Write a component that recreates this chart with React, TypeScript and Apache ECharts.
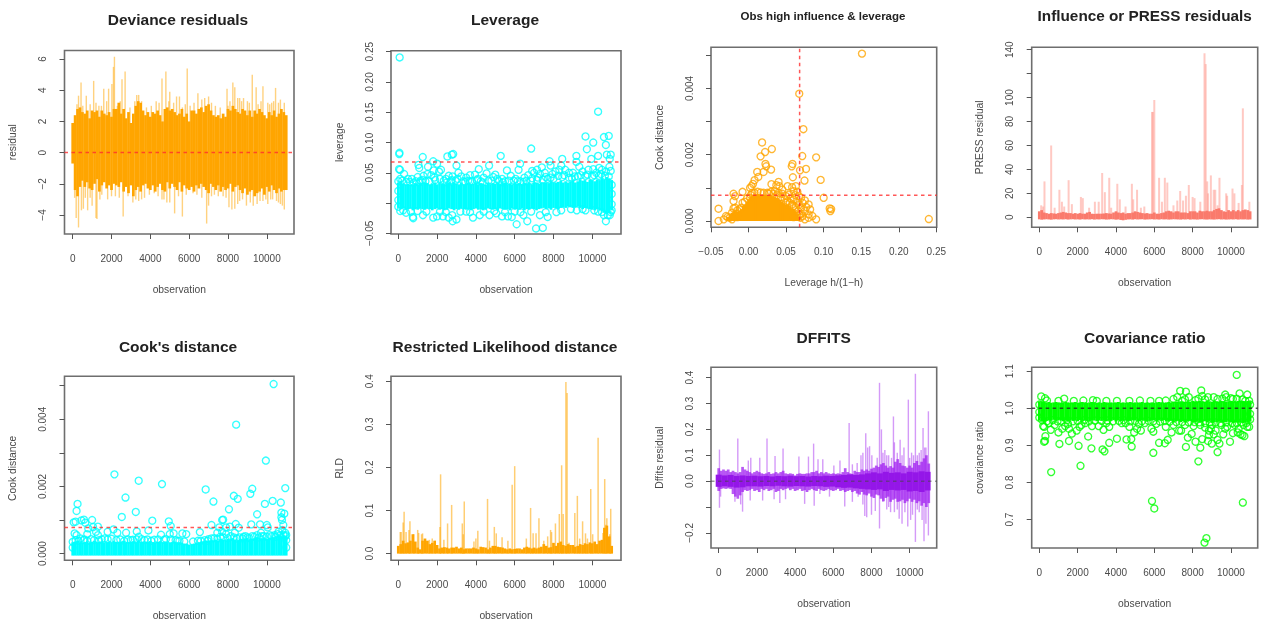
import React, { useEffect, useRef } from "react";
import * as echarts from "echarts";

const coreStep = 125;
const obsTicks = [0, 2000, 4000, 6000, 8000, 10000];

// Deviance residuals
const devCoreHi = [
  1.9,2.4,2.8,2.9,2.6,2.5,2.7,2.2,2.7,2.6,
  2.7,2.3,2.7,2.5,2.4,2.6,2.3,2.8,2.8,3.2,
  2.5,2.8,2.2,2.6,1.9,2.5,3.0,3.3,3.2,2.7,
  2.4,2.6,2.3,2.6,2.5,2.7,2.4,2.0,2.8,2.9,
  2.7,2.8,2.6,2.4,2.5,2.8,2.3,2.5,2.0,2.7,
  2.7,2.5,2.8,2.9,2.6,3.0,3.1,2.7,2.4,2.3,
  2.4,2.2,2.5,2.3,2.8,2.7,3.0,2.8,2.6,2.5,
  2.8,2.7,2.4,2.7,2.3,2.7,2.5,2.8,2.6,2.4,
  2.2,2.6,2.4,2.7,2.3,2.5,2.8,2.6,2.4];
const devCoreLo = [
  -0.7,-2.4,-2.8,-2.2,-1.8,-2.2,-1.9,-2.3,-2.4,-2.0,
  -1.7,-2.5,-2.1,-1.9,-2.3,-2.1,-2.4,-2.0,-2.1,-2.2,
  -1.9,-2.5,-2.2,-2.6,-2.1,-2.8,-2.4,-2.2,-2.5,-2.1,
  -2.0,-2.3,-2.4,-2.1,-2.5,-2.2,-2.0,-2.4,-2.5,-1.9,
  -2.3,-2.0,-2.2,-2.4,-1.9,-2.5,-2.1,-2.3,-2.4,-2.2,
  -2.5,-2.1,-2.3,-2.0,-2.2,-2.4,-2.6,-2.0,-2.2,-2.4,
  -2.1,-2.5,-2.2,-2.4,-2.3,-2.0,-2.5,-2.2,-2.1,-2.4,
  -2.6,-2.3,-2.7,-2.5,-2.4,-2.8,-2.6,-2.5,-2.3,-2.7,
  -2.2,-2.5,-2.1,-2.4,-2.6,-2.3,-2.5,-2.4,-2.4];
const devSpikes = [
  [2150,6.15],[2100,5.5],[2700,5.2],[2540,4.7],[430,4.5],[1080,4.6],[1600,4.1],[1850,4.1],[2020,4.4],[4600,4.75],
  [4800,5.2],[5900,5.4],[3300,3.7],[3400,3.7],[5000,3.9],[5500,3.6],[6450,3.8],[7000,3.6],[7950,4.1],[8250,4.5],
  [8350,4.2],[9250,5.0],[9450,4.2],[9800,4.25],[10450,4.15],[8600,3.5],[8800,3.5],[9000,3.3],[10050,3.2],[10250,3.2],
  [10700,3.4],[10900,3.2],[300,3.65],[700,3.65],[1350,3.0],[2450,3.3],[3200,3.3],[4050,3.0],[4300,3.3],[5350,3.6],
  [5200,3.2],[6250,3.2],[7600,2.9],[8000,3.0],[8500,3.5],
  [300,-4.8],[180,-4.2],[450,-3.7],[550,-3.6],[770,-3.7],[1250,-4.25],[1200,-4.2],[1000,-3.4],[2600,-4.1],[3100,-3.2],
  [3400,-3.1],[4600,-3.0],[4700,-3.0],[5000,-3.2],[5250,-3.9],[5650,-4.1],[6900,-4.55],[7000,-3.4],[7500,-2.8],[8050,-3.5],
  [8200,-3.65],[8350,-3.6],[8600,-3.1],[8950,-3.4],[9300,-3.4],[9500,-3.3],[9800,-3.1],[10050,-3.3],[10300,-3.0],[10700,-3.3],
  [10900,-3.65],[10800,-3.4],[100,-2.9],[4200,-2.6],[3700,-2.9],[2200,-2.8],[1800,-3.0],[1500,-2.7],[6200,-2.6],[7300,-2.7],
  [220,3.1],[520,3.0],[900,3.1],[1200,3.2],[1480,3.0],[1750,3.3],[2300,3.0],[2950,2.9],[3550,3.3],[3800,2.9],
  [4450,3.2],[4950,3.3],[5650,2.9],[5800,3.1],[6050,3.0],[6650,3.4],[6800,3.5],[7150,3.2],[7350,3.0],[8100,3.3],
  [8700,3.3],[9100,3.2],[9550,3.1],[9700,3.3],[10150,3.1],[10350,3.3],[10600,3.2],
  [650,-2.9],[900,-2.9],[1400,-3.0],[2000,-2.8],[2400,-2.9],[2850,-2.8],[3250,-3.0],[3550,-3.0],[3950,-2.7],[4400,-2.8],
  [4850,-3.2],[5450,-2.8],[5850,-2.7],[6400,-2.7],[6650,-2.9],[7150,-2.8],[7750,-2.8],[7900,-2.9],[8500,-3.3],[8750,-3.0],
  [9150,-3.2],[9650,-3.1],[9950,-3.0],[10200,-3.0],[10500,-3.1],[10600,-3.2]];

// Leverage
const levCoreHi = [
  .034,.037,.032,.031,.032,.030,.031,.033,.031,.033,
  .031,.034,.033,.030,.032,.034,.031,.034,.032,.031,
  .033,.034,.031,.034,.032,.031,.034,.030,.032,.034,
  .031,.032,.034,.031,.033,.032,.030,.034,.031,.033,
  .032,.034,.031,.033,.034,.031,.032,.031,.034,.032,
  .033,.031,.034,.032,.034,.031,.034,.034,.032,.034,
  .034,.034,.033,.036,.034,.034,.035,.037,.034,.036,
  .034,.035,.038,.034,.036,.039,.037,.038,.035,.039,
  .038,.036,.039,.038,.041,.039,.043,.041,.038];
const levCoreLo = [
  -.008,-.010,-.009,-.011,-.010,-.009,-.012,-.010,-.011,-.009,
  -.010,-.011,-.009,-.010,-.012,-.010,-.009,-.011,-.010,-.012,
  -.011,-.009,-.010,-.012,-.010,-.011,-.009,-.010,-.011,-.010,
  -.012,-.010,-.009,-.011,-.010,-.012,-.011,-.009,-.010,-.011,
  -.010,-.012,-.009,-.010,-.011,-.010,-.012,-.009,-.011,-.010,
  -.011,-.009,-.012,-.010,-.011,-.009,-.010,-.012,-.010,-.009,
  -.008,-.010,-.009,-.011,-.008,-.009,-.010,-.008,-.007,-.008,
  -.006,-.007,-.008,-.007,-.006,-.008,-.010,-.008,-.009,-.010,
  -.011,-.012,-.010,-.012,-.014,-.016,-.018,-.017,-.012];
const levPoints = [
  [70,.2406],[50,.081],[60,.083],[40,.056],[90,.055],[1040,.063],[1080,.058],[1260,.076],[1530,.06],[1800,.069],
  [2000,.065],[1820,.054],[2530,.077],[2760,.08],[2830,.081],[3000,.062],[3100,.05],[4150,.056],[4680,.062],[5280,.078],
  [5600,.054],[6200,.055],[6280,.065],[6850,.09],[6900,.053],[7150,.055],[7400,.059],[7800,.069],[7850,.062],[8450,.073],
  [8400,.062],[9180,.078],[9180,.068],[9330,.06],[9650,.11],[9720,.089],[9950,.073],[10050,.1],[10050,.056],[10300,.151],
  [10300,.078],[10350,.058],[10600,.109],[10700,.096],[10850,.111],[10750,.08],[10950,.08],[10900,.073],[10880,.06],[10950,.053],
  [100,-.013],[400,-.016],[750,-.023],[770,-.025],[1270,-.02],[1800,-.024],[2000,-.022],[2300,-.022],[2600,-.024],[2800,-.03],
  [2780,-.02],[3000,-.027],[3500,-.014],[3850,-.024],[4200,-.02],[4700,-.02],[5050,-.017],[5350,-.022],[5650,-.022],[5850,-.023],
  [6100,-.035],[6450,-.02],[6650,-.03],[7100,-.042],[7450,-.041],[7300,-.02],[7700,-.023],[8150,-.015],[8900,-.01],[9200,-.012],
  [9650,-.012],[10100,-.012],[10700,-.03],[10800,-.02],[10900,-.02],[10500,-.015],
  [300,.048],[500,.04],[700,.04],[1000,.043],[1300,.045],[1500,.048],[1700,.046],[2100,.052],[2200,.055],[2450,.04],
  [2600,.045],[2800,.044],[3250,.044],[3500,.042],[3700,.046],[3950,.047],[4100,.04],[4400,.042],[4550,.049],[4900,.043],
  [5000,.047],[5350,.04],[5800,.045],[6050,.04],[6500,.042],[6700,.046],[7000,.05],[7300,.048],[7550,.05],[7950,.048],
  [8100,.052],[8300,.055],[8600,.055],[8800,.05],[9000,.05],[9500,.052],[9800,.055],[10200,.05],[10500,.055],[10700,.052],
  [0,.036],[0,.02],[0,.005],[0,-.006],[11000,.03],[11000,.015],[11000,-.002],[11000,-.012],
  [200,.037],[600,.035],[900,.036],[1150,.037],[1400,.036],[1900,.038],[2350,.037],[2700,.036],[2950,.037],[3350,.036],
  [3600,.037],[3800,.036],[4250,.036],[4650,.037],[5200,.036],[5500,.036],[5950,.037],[6300,.036],[6600,.037],[6850,.037],
  [7150,.038],[7450,.039],[7700,.04],[8000,.04],[8450,.043],[8950,.041],[9250,.044],[9650,.045],[10000,.044],[10350,.045],
  [100,.04],[420,.035],[800,.033],[1080,.034],[1250,.038],[1600,.036],[1850,.042],[2150,.04],[2500,.034],[2750,.038],
  [3050,.04],[3450,.035],[3700,.036],[4050,.038],[4350,.034],[4800,.037],[5100,.04],[5400,.034],[5700,.037],[6150,.036],
  [6450,.035],[6900,.041],[7200,.042],[7600,.043],[7850,.042],[8250,.045],[8550,.046],[8800,.042],[9100,.044],[9400,.046],
  [9750,.047],[10100,.046],[10450,.048],[10650,.045],[10850,.044],
  [250,-.012],[650,-.014],[1000,-.013],[1450,-.014],[2150,-.014],[2450,-.015],[3200,-.014],[3700,-.015],[4400,-.014],[4950,-.013],
  [5500,-.015],[6000,-.014],[6300,-.015],[6850,-.014],[7600,-.015],[8400,-.012],[9500,-.01],[10300,-.014],[10600,-.02],[10950,-.015]];
const levLimit = 0.068;

// Obs high influence & leverage
const hatCoreX = [
  -.025,-.0225,-.02,-.0175,-.015,-.0125,-.01,-.0075,-.005,-.0025,0,.0025,.005,.0075,.01,.0125,.015,.0175,
  .02,.0225,.025,.0275,.03,.0325,.035,.0375,.04,.0425,.045,.0475,.05,.0525,.055,.0575,.06,.0625,.065];
const hatCoreHi = [
  .00012,.0002,.00025,.00028,.00025,.00028,.0003,.00036,.00045,.0005,.00058,.00066,.00074,.00078,.0008,.00079,.0008,.00078,
  .00078,.00077,.00078,.00076,.00075,.00072,.0007,.00068,.00064,.00058,.00054,.0005,.00048,.00042,.00038,.00035,.0003,.00022,.00012];
const hatPoints = [
  [.151,.00505],[.0675,.00384],[.073,.00277],[.018,.00237],[.031,.00217],[.022,.00208],[.016,.00195],[.0715,.00196],[.09,.00192],[.0225,.00172],
  [.0235,.00165],[.0585,.00172],[.0575,.00165],[.03,.00155],[.0115,.00148],[.02,.00148],[.0685,.00153],[.0765,.00157],[.059,.00132],[.096,.00124],
  [.0745,.00122],[.013,.00133],[.008,.00123],[.004,.00105],[.0305,.00111],[.04,.00118],[.037,.00108],[.041,.00105],[.045,.00095],[.052,.00105],
  [.058,.00102],[.063,.00105],[.006,.00112],[.002,.001],[-.008,.00088],[-.02,.00082],[-.018,.00075],[-.02,.0006],[.1,.0007],[.108,.00038],
  [.11,.00036],[.109,.0003],[.24,.00006],[-.04,.00037],[-.04,0],[-.0177,.0004],[-.015,.00032],[-.008,.00055],[-.03,.00015],[-.025,.0001],
  [.06,.0009],[.065,.00088],[.067,.00075],[.07,.0007],[.075,.00062],[.08,.0005],[.077,.00042],[.082,.00035],[.07,.0004],[.075,.0003],
  [.08,.0002],[.085,.00015],[.09,.00005],[.075,.00005],[.08,.0001],[.072,.00055],[.065,.00055],[.06,.00065],[.054,.0008],[.05,.00075],
  [.045,.00082],[.04,.00085],[.035,.0009],[.03,.00088],[.025,.00085],[.012,.00088],[.005,.00085],[-.033,.00005],[-.028,.00012],[.068,.0002],
  [.072,.00015],[.06,.00045],[.066,.0003],[.055,.00055],[.05,.00055],[-.012,.00035],[-.018,.00015],[-.022,.00005],[-.015,.00012],
  [.056,.00068],[.062,.00078],[.048,.00068],[.043,.00072],[.038,.00078],[.033,.00082],[.027,.00083],[.02,.00085],[.016,.00086],[.008,.00085],
  [.003,.00078],[-.002,.00068],[-.005,.00058],[-.01,.0004],[.002,.0007],[-.02,.00038],[-.022,.00025],[-.016,.00022],[.069,.0001],[.063,.00042],
  [.067,.00048],[.058,.0005],[.052,.0006],[.07,.00022],[.065,.00015],[.06,.00012]];
const hatLimit = 0.068;
const cookLimit = 0.00078;

// Influence or PRESS residuals
const pressCoreHi = [
  5,6,4,3.5,3,3.5,3.2,3,3.5,4,
  4.5,4,3.5,3.5,3,3.5,3,3.5,3,3,
  4,4.5,3,2.8,3,3,3,3.2,3.5,3.2,
  3,4,5,4,3.5,4,3,3.5,3.5,4,
  5,4.5,4,3.5,3.2,3.5,3,3,4,3,
  3,3.5,4,5,5.5,5,4,5,5,4,
  4,4,3.5,5,5,5,4,5.5,5,5,
  5.5,5,5,6,7,7.5,6,5,4.5,6,
  5,6,5,6,5,6,6.5,6,5];
const pressCoreLo = [
  -1.7,-2,-1.8,-1.6,-1.8,-2,-1.7,-1.6,-1.8,-1.7,
  -1.8,-1.6,-1.9,-1.7,-1.6,-1.8,-1.7,-1.9,-1.6,-1.8,
  -1.7,-1.8,-1.6,-1.9,-1.7,-1.8,-1.6,-1.7,-1.9,-1.8,
  -1.6,-1.7,-2,-1.8,-2.2,-2.5,-2.1,-1.8,-1.7,-1.9,
  -1.6,-1.8,-1.7,-1.6,-1.9,-1.8,-1.7,-1.6,-1.8,-1.7,
  -1.9,-1.6,-1.8,-1.7,-1.9,-1.8,-1.6,-1.7,-1.8,-1.9,
  -1.7,-1.8,-1.6,-1.9,-1.7,-1.8,-1.9,-1.7,-1.6,-1.8,
  -1.9,-1.7,-1.8,-1.9,-1.7,-1.6,-1.8,-1.7,-1.9,-1.8,
  -1.7,-1.8,-1.6,-1.9,-1.7,-1.8,-1.7,-1.9,-1.8];
const pressSpikes = [
  [270,30],[620,60],[1050,23],[1180,13],[1530,31],[2170,17],[2270,16],[2900,13],[3100,13],[3280,37],
  [3420,21],[3650,33],[4070,28],[4200,15],[4830,28],[5100,23],[5480,9],[5880,88],[5930,88],[6000,98],
  [6250,33],[6550,33],[6680,29],[7350,22],[7200,14],[7500,14],[7650,18],[7800,27],[8000,17],[8100,16],
  [8620,137],[8680,128],[8760,30],[8950,35],[9100,23],[9180,23],[9400,33],[9750,20],[10080,24],[10180,20],
  [10570,27],[10620,91],[10960,13],[100,10],[200,9],[800,8],[1300,9],[1700,11],[2600,8],[3750,8],
  [4500,9],[4900,15],[5300,8],[6400,13],[7000,10],[8400,13],[8800,20],[9300,10],[9800,18],[10400,12]];

// Cook's distance (in units of 1e-4 for the band)
const cookCoreHiE4 = [
  3.4,3.6,3.8,3.4,3.2,3.4,3.6,3.2,3.4,3.8,
  3.4,3.5,3.7,3.2,3.4,3.6,3.3,3.7,3.5,3.4,
  3.6,3.8,3.4,3.3,3.5,3.7,3.4,3.8,3.4,3.5,
  3.6,3.4,3.7,3.4,3.3,3.5,3.7,3.4,3.6,3.4,
  3.2,3.4,3.6,3.3,3.4,3.2,3,2.9,2.7,2.8,
  3,3.2,3.4,3.6,3.7,3.9,3.8,4,3.9,4.2,
  3.9,4.4,4.2,4,4.4,4.2,4.6,4.2,4,4.4,
  4.2,4.4,4.6,4.3,4.4,4.6,4.9,4.6,4.4,4.8,
  4.4,4.6,4.8,4.9,5.2,5.4,5.2,5.4,5];
const cookPoints = [
  [10350,.00505],[8420,.00384],[9950,.00277],[2150,.00236],[3400,.00217],[4600,.00207],[6850,.00191],[9250,.00193],[9150,.00178],[10950,.00195],
  [8300,.00172],[8500,.00163],[2720,.00167],[7250,.00155],[10300,.00157],[10720,.00152],[9900,.00148],[250,.00148],[200,.00127],[8050,.00132],
  [3250,.00124],[10750,.00122],[10900,.00119],[9500,.00117],[2530,.00109],[10750,.00108],[10780,.001],[4100,.00098],[1000,.001],[580,.00101],
  [450,.00099],[50,.00093],[150,.00095],[650,.00092],[4950,.00096],[7700,.001],[7750,.00101],[5050,.00082],[1300,.0008],[1050,.00079],
  [800,.00075],[7150,.00085],[7550,.00078],[7900,.00078],[8100,.0008],[8400,.00088],[8550,.00077],[9200,.00087],[9650,.00087],[10000,.00085],
  [10050,.00078],[10850,.00085],[1800,.00065],[2100,.00072],[2300,.00062],[2750,.00062],[3300,.00066],[3400,.0005],[3900,.00069],[3700,.0004],
  [4550,.00056],[5000,.00058],[5200,.0006],[5650,.0006],[5850,.00058],[6550,.00064],[7450,.00062],[8900,.00052],[9000,.00048],[8800,.0005],
  [7700,.00065],[7900,.00058],[8350,.00062],[9700,.00062],[10600,.00065],[10800,.0007],[10950,.00062],[11000,.00055],[100,.0006],[200,.00055],
  [750,.00058],[1200,.00065],[1300,.00055],[400,.00045],[600,.00042],[950,.00043],[1500,.00042],[1650,.00045],[2000,.00044],[2450,.00042],
  [2850,.00042],[3100,.00041],[3550,.00043],[4200,.00041],[4400,.00042],[4800,.00043],[5300,.0004],[5500,.00038],[6200,.00036],[6450,.00038],
  [6800,.0004],[7000,.00043],[7300,.00046],[7600,.0005],[8150,.00052],[8600,.00048],[9350,.0005],[9500,.00055],[9850,.00052],[10150,.00055],
  [10400,.00055],[10550,.00058],[0,.00035],[0,.00018],[11000,.0004],[11000,.00018],
  [150,.0004],[300,.00038],[550,.0004],[750,.00038],[1100,.0004],[1350,.0004],[1800,.00042],[2250,.0004],[2650,.00038],[3000,.0004],
  [3300,.00042],[3850,.00042],[4050,.00038],[4700,.00041],[5050,.00042],[5400,.00038],[5750,.00036],[6600,.00038],[6950,.00038],[7150,.00045],
  [7450,.00044],[7750,.00048],[8000,.00046],[8300,.00048],[8450,.00045],[8750,.00045],[9100,.00046],[9250,.00052],[9600,.00048],[9750,.00052],
  [10000,.0005],[10250,.00052],[10450,.0005],[10700,.00055],[10850,.00056],[10950,.00052]];
const cookCoreFloor = -0.00006;

// Restricted Likelihood distance (1e-3 units for the band)
const rldCoreHiE3 = [
  18,22,30,24,26,30,45,28,14,10,
  30,35,30,22,25,30,20,12,14,15,
  14,12,14,14,16,12,14,10,12,12,
  12,14,12,10,16,15,14,10,14,18,
  18,16,15,14,12,10,12,10,11,12,
  12,10,14,16,14,12,14,12,14,16,
  22,18,14,15,25,18,25,28,20,18,
  22,20,20,16,18,22,20,24,22,26,
  24,28,22,30,32,60,65,40,18];
const rldSpikes = [
  [100,.05],[150,.05],[250,.072],[300,.097],[400,.05],[600,.075],[550,.055],[800,.045],[1000,.055],[1050,.048],
  [1250,.047],[1200,.045],[1600,.032],[1750,.035],[1900,.03],[2150,.062],[2180,.184],[2350,.032],[2540,.07],[2750,.113],
  [3300,.07],[3400,.121],[3350,.045],[3900,.028],[4000,.035],[4100,.053],[4600,.127],[4700,.03],[4950,.062],[5050,.047],
  [5350,.038],[5650,.03],[5870,.16],[6000,.203],[6600,.035],[6820,.106],[6950,.047],[7100,.047],[7250,.082],[7500,.03],
  [7700,.04],[7850,.055],[7900,.05],[8100,.07],[8300,.092],[8420,.205],[8500,.092],[8640,.398],[8700,.373],[8800,.025],
  [9100,.094],[9230,.134],[9500,.075],[9650,.047],[9920,.15],[10020,.045],[10300,.269],[10550,.048],[10640,.173],[10750,.082],
  [10700,.067],[10950,.104],[10900,.045],[9750,.035],[9350,.035]];

// DFFITS (1e-3 units for the band)
const dffCoreHiE3 = [
  50,40,45,40,45,35,40,35,30,35,
  55,45,40,35,30,35,40,35,30,28,
  30,35,28,30,35,30,35,40,30,28,
  30,28,22,28,30,28,28,30,30,35,
  35,40,30,35,30,35,30,28,30,28,
  30,28,35,50,35,30,28,40,35,35,
  45,40,45,40,48,52,60,55,65,70,
  60,52,58,52,75,85,70,60,58,52,
  60,52,70,78,62,75,88,100,68];
const dffCoreLoE3 = [
  -38,-30,-28,-30,-28,-30,-50,-60,-68,-55,
  -42,-35,-38,-35,-30,-38,-35,-42,-30,-35,
  -30,-38,-35,-30,-42,-38,-30,-35,-30,-28,
  -35,-30,-38,-35,-30,-38,-35,-42,-35,-30,
  -35,-38,-30,-35,-38,-35,-30,-35,-38,-35,
  -30,-38,-35,-42,-38,-35,-42,-38,-48,-52,
  -42,-52,-55,-48,-60,-65,-52,-55,-68,-78,
  -65,-60,-80,-72,-68,-80,-78,-72,-85,-78,
  -68,-80,-72,-85,-78,-95,-85,-100,-85];
const dffInnerHiE3 = [25,22,24,20,22,20,21,19,20,18,20,19,21,19,20,18,20,19,21,20,22,24,26,24,26,30,34,30,36,32,34,30,36,34,38,36];
const dffInnerLoE3 = [-22,-20,-22,-25,-24,-20,-20,-21,-19,-20,-18,-20,-21,-19,-20,-21,-19,-20,-22,-21,-24,-26,-25,-28,-30,-32,-34,-32,-38,-34,-36,-34,-40,-38,-42,-36];
const dffInnerStep = 312.5;
const dffSpikes = [
  [40,.122],[1000,.165],[2530,.165],[3370,.126],[2950,.097],[1680,.09],[1550,.08],[2150,.09],[4200,.095],[4700,.095],
  [4970,.145],[5450,.085],[5200,.085],[6030,.06],[6350,.08],[6830,.225],[7000,.065],[7250,.07],[7450,.1],[7550,.11],
  [7700,.185],[7800,.13],[7900,.135],[8020,.1],[8420,.38],[8520,.2],[8600,.11],[8800,.1],[8900,.1],[9150,.25],
  [9200,.15],[9500,.16],[9700,.13],[9930,.315],[10100,.11],[10300,.415],[10500,.11],[10700,.205],[10850,.13],[10980,.27],
  [10000,.09],[9350,.11],[8300,.09],[8700,.12],[9050,.09],[9600,.1],[10200,.1],[10400,.1],[10600,.12],[10780,.13],
  [40,-.103],[100,-.06],[850,-.08],[1150,-.09],[1250,-.118],[1650,-.075],[2300,-.075],[2900,-.07],[3200,-.085],[3500,-.07],
  [4500,-.088],[5000,-.095],[5300,-.05],[5800,-.06],[6600,-.098],[7000,-.08],[7300,-.06],[7550,-.09],[7650,-.135],[7750,-.14],
  [8000,-.13],[8200,-.115],[8420,-.183],[8600,-.08],[8800,-.11],[9000,-.12],[9200,-.12],[9450,-.145],[9600,-.165],[9900,-.175],
  [10050,-.15],[10300,-.235],[10500,-.12],[10750,-.232],[10850,-.165],[10980,-.21],[8900,-.1],[9350,-.11],[9750,-.12],[10150,-.13],
  [10400,-.11],[10650,-.15]];

// Covariance ratio
const covCoreHi = [
  1.018,1.019,1.017,1.016,1.017,1.015,1.016,1.017,1.016,1.015,
  1.016,1.017,1.016,1.015,1.016,1.017,1.015,1.016,1.017,1.016,
  1.015,1.016,1.017,1.016,1.015,1.016,1.015,1.017,1.016,1.015,
  1.016,1.015,1.016,1.017,1.015,1.016,1.015,1.016,1.017,1.015,
  1.016,1.015,1.016,1.017,1.015,1.016,1.015,1.016,1.015,1.016,
  1.017,1.016,1.015,1.016,1.017,1.016,1.018,1.017,1.018,1.019,
  1.018,1.017,1.019,1.018,1.02,1.019,1.018,1.02,1.019,1.018,
  1.02,1.019,1.018,1.02,1.019,1.018,1.02,1.019,1.018,1.019,
  1.02,1.019,1.018,1.02,1.021,1.02,1.019,1.02,1.019];
const covCoreLo = [
  .968,.964,.962,.966,.968,.967,.969,.966,.968,.967,
  .965,.967,.964,.968,.966,.967,.965,.968,.966,.967,
  .966,.964,.968,.967,.965,.967,.966,.968,.965,.967,
  .966,.968,.965,.967,.966,.968,.967,.965,.966,.968,
  .967,.965,.966,.968,.967,.964,.966,.967,.968,.965,
  .967,.966,.968,.965,.964,.966,.962,.964,.966,.963,
  .965,.962,.964,.966,.963,.962,.964,.961,.963,.965,
  .962,.964,.961,.963,.962,.964,.961,.963,.962,.964,
  .962,.960,.963,.961,.962,.960,.962,.961,.964];
const covPoints = [
  [10300,1.09],[10450,1.04],[8450,1.048],[7350,1.047],[7650,1.045],[7800,1.03],[7450,1.02],[8500,1.033],[8800,1.03],[9100,1.03],
  [9700,1.037],[10850,1.037],[100,1.032],[300,1.027],[1300,1.026],[2800,1.022],[3000,1.02],[6250,1.02],[7000,1.025],[7200,1.03],
  [8150,1.022],[9750,1.03],[10000,1.027],[10100,1.025],[10750,1.02],[10950,1.02],
  [620,.828],[2150,.845],[5880,.75],[6000,.73],[10620,.746],[8620,.638],[8720,.65],[8300,.857],[5950,.88],[3300,.889],
  [3400,.884],[2720,.892],[4820,.897],[7650,.896],[8400,.894],[9300,.882],[1050,.904],[2050,.899],[3650,.907],[4050,.918],
  [4550,.916],[4800,.917],[6250,.907],[6550,.906],[6700,.915],[250,.91],[300,.912],[320,.925],[2550,.924],[1550,.912],
  [7750,.921],[7950,.931],[8150,.91],[8500,.917],[8800,.912],[9000,.905],[9400,.905],[9300,.915],[9950,.91],[8850,.928],
  [10100,.933],[10350,.935],[10500,.93],[10600,.928],[10700,.925],[1000,.935],[1700,.932],[1550,.945],[1950,.94],[2100,.95],
  [3350,.942],[4950,.935],[5100,.945],[5300,.94],[5850,.945],[5950,.937],[6900,.935],[7300,.94],[7400,.94],[9100,.93],
  [9200,.94],[9600,.93],[9700,.945],[9800,.95],[10950,.95],[200,.952],[250,.95],[600,.942],[800,.955],[1200,.945],
  [1350,.952],[2200,.955],[2750,.952],[3100,.952],[3650,.95],[4300,.96],[4700,.95],[5500,.96],[6600,.95],[8050,.952],
  [8650,.948],[8850,.94],[8950,.945],[10400,.945],[10850,.95],
  [0,1.01],[0,.99],[0,.975],[11000,1.01],[11000,.985],[11000,.97],[500,.96],[1500,.958],[2400,.96],[3500,.96],
  [4500,.96],[5200,.958],[6100,.958],[7000,.955],[7600,.955],[8400,.955],[9000,.955],[9500,.955],[10200,.955],[10650,.955],
  [150,.968],[400,.965],[700,.968],[950,.965],[1150,.966],[1450,.968],[1750,.965],[2000,.966],[2350,.968],[2600,.965],
  [2900,.967],[3250,.966],[3550,.967],[3850,.965],[4150,.966],[4400,.968],[4750,.965],[5000,.966],[5350,.965],[5700,.966],
  [5950,.965],[6300,.964],[6550,.966],[6800,.964],[7150,.963],[7450,.963],[7800,.962],[8100,.963],[8350,.962],[8650,.96],
  [8900,.962],[9200,.962],[9450,.96],[9750,.962],[10050,.96],[10300,.96],[10550,.962],[10800,.96],
  [400,1.021],[1000,1.02],[1800,1.02],[2300,1.021],[3500,1.02],[4050,1.02],[4700,1.02],[5250,1.021],[5800,1.02],[6600,1.021],
  [7600,1.024],[8300,1.026],[8650,1.024],[9300,1.025],[9550,1.026],[10300,1.026],[10600,1.024]];

const ORANGE = "#ffa500";
const CYAN = "#00ffff";
const GREEN = "#00ff00";
const PURPLE = "#a020f0";
const DARK_PURPLE = "#9416e8";
const SALMON = "#fa7a6c";
const RED = "rgba(255,45,45,0.8)";
const TXT = "#4a4a4a";

const band = (hi: number[], lo: number[]) => hi.map((v, i) => [i * coreStep, lo[i], v]);

const App = () => {
  const ref = useRef<HTMLDivElement>(null);
  useEffect(() => {
    const chart = echarts.init(ref.current!, undefined, { renderer: "svg" });
    const grids: any[] = [];
    const xAxes: any[] = [];
    const yAxes: any[] = [];
    const titles: any[] = [];
    const series: any[] = [];

    const panel = (p: any) => {
      const i = grids.length;
      grids.push({ show: true, left: p.box[0], top: p.box[1], width: p.box[2] - p.box[0], height: p.box[3] - p.box[1], borderColor: "#6e6e6e", borderWidth: 1.6, backgroundColor: "transparent" });
      const fmt = (d: number) => (v: number) => v.toFixed(d).replace("-", "\u2212");
      const tick = { show: true, length: 5, lineStyle: { color: "#555", width: 1 } };
      xAxes.push({
        gridIndex: i, type: "value", min: p.x[0], max: p.x[1], splitLine: { show: false }, axisLine: { show: false, onZero: false },
        axisTick: { ...tick, customValues: p.xTicks ?? obsTicks },
        axisLabel: { customValues: p.xLabels ?? obsTicks, margin: 19, color: TXT, fontSize: 10, fontFamily: "Liberation Sans", formatter: p.xFmt ? fmt(p.xFmt) : (v: number) => String(v), hideOverlap: false, showMinLabel: true, showMaxLabel: true },
        name: p.xName ?? "observation", nameLocation: "middle", nameGap: 50, nameTextStyle: { color: TXT, fontSize: 10.3, fontFamily: "Liberation Sans" },
      });
      yAxes.push({
        gridIndex: i, type: "value", min: p.y[0], max: p.y[1], splitLine: { show: false }, axisLine: { show: false, onZero: false },
        axisTick: { ...tick, customValues: p.yTicks },
        axisLabel: { customValues: p.yLabels, rotate: 90, margin: 17, color: TXT, fontSize: 10, fontFamily: "Liberation Sans", formatter: fmt(p.yFmt), hideOverlap: false, showMinLabel: true, showMaxLabel: true },
        name: p.yName, nameLocation: "middle", nameGap: 47, nameTextStyle: { color: TXT, fontSize: 10.3, fontFamily: "Liberation Sans" },
      });
      const size = p.titleSize ?? 15.5;
      titles.push({ text: p.title, left: p.titleX, top: p.titleY - size / 2 + 0.5, textAlign: "center", padding: 0, textStyle: { color: "#222", fontSize: size, fontWeight: "bold", fontFamily: "Liberation Sans" } });
      return i;
    };
    const rule = (i: number, pts: number[][], color: string) =>
      series.push({ type: "line", xAxisIndex: i, yAxisIndex: i, data: pts, symbol: "none", silent: true, z: 5, lineStyle: { color, width: 1.5, type: [3.5, 3.5] } });
    const circles = (i: number, data: number[][], color: string, size: number) =>
      series.push({ type: "scatter", xAxisIndex: i, yAxisIndex: i, data, silent: true, symbol: "circle", symbolSize: size, itemStyle: { color: "rgba(0,0,0,0)", borderColor: color, borderWidth: 1.35 } });
    const spikeRows = (pairs: number[][]) => pairs.map(([x, y]) => [x, 0, y]);

    const drawStrokes = (i: number, data: number[][], color: string, width: number, opacity = 1) =>
      series.push({
        type: "custom", xAxisIndex: i, yAxisIndex: i, data, silent: true, encode: { x: 0, y: [1, 2] },
        renderItem: (params: any, api: any) => {
          const x = api.value(0);
          const a = api.coord([x, api.value(1)]);
          const b = api.coord([x, api.value(2)]);
          return { type: "line", shape: { x1: a[0], y1: a[1], x2: b[0], y2: b[1] }, style: { stroke: color, lineWidth: width, opacity } };
        },
      });

    const obsLeft = [-422, 11400];

    let i = panel({ title: "Deviance residuals", titleX: 178, titleY: 19, box: [64.5, 50.5, 294, 234], x: obsLeft, y: [-5.22, 6.55], yTicks: [-4, -2, 0, 2, 4, 6], yLabels: [-4, -2, 0, 2, 4, 6], yFmt: 0, yName: "residual" });
    drawStrokes(i, spikeRows(devSpikes), ORANGE, 1.4, 0.5);
    drawStrokes(i, band(devCoreHi, devCoreLo), ORANGE, 2.7);
    rule(i, [[obsLeft[0], 0], [obsLeft[1], 0]], RED);

    i = panel({ title: "Leverage", titleX: 505, titleY: 19, box: [391, 50.7, 621, 234], x: [-376, 11480], y: [-0.0511, 0.2517], yTicks: [-0.05, 0, 0.05, 0.1, 0.15, 0.2, 0.25], yLabels: [-0.05, 0.05, 0.1, 0.15, 0.2, 0.25], yFmt: 2, yName: "leverage" });
    drawStrokes(i, band(levCoreHi, levCoreLo), CYAN, 2.7);
    circles(i, levPoints, CYAN, 7);
    rule(i, [[-376, levLimit], [11480, levLimit]], RED);

    i = panel({ title: "Obs high influence & leverage", titleX: 823, titleY: 15.5, titleSize: 11.5, box: [711, 47.3, 936.7, 227.3], x: [-0.05, 0.2505], y: [-0.00019, 0.00524], xTicks: [-0.05, 0, 0.05, 0.1, 0.15, 0.2, 0.25], xLabels: [-0.05, 0, 0.05, 0.1, 0.15, 0.2, 0.25], xFmt: 2, xName: "Leverage h/(1\u2212h)", yTicks: [0, 0.001, 0.002, 0.003, 0.004, 0.005], yLabels: [0, 0.002, 0.004], yFmt: 3, yName: "Cook distance" });
    drawStrokes(i, hatCoreX.map((x, k) => [x, 0, hatCoreHi[k]]), ORANGE, 6);
    circles(i, hatPoints, ORANGE, 7);
    rule(i, [[-0.05, cookLimit], [0.2505, cookLimit]], RED);
    rule(i, [[hatLimit, -0.00019], [hatLimit, 0.00524]], RED);

    i = panel({ title: "Influence or PRESS residuals", titleX: 1144.7, titleY: 15.5, titleSize: 15.3, box: [1031.7, 47.3, 1257.7, 227.3], x: [-396, 11395], y: [-8.35, 142], yTicks: [0, 20, 40, 60, 80, 100, 120, 140], yLabels: [0, 20, 40, 60, 80, 100, 140], yFmt: 0, yName: "PRESS residual" });
    drawStrokes(i, spikeRows(pressSpikes), "#ff9d92", 2, 0.55);
    drawStrokes(i, band(pressCoreHi, pressCoreLo), SALMON, 2.7);

    i = panel({ title: "Cook's distance", titleX: 178, titleY: 345.3, box: [64.5, 376.3, 294, 560.3], x: obsLeft, y: [-0.0002, 0.00528], yTicks: [0, 0.001, 0.002, 0.003, 0.004, 0.005], yLabels: [0, 0.002, 0.004], yFmt: 3, yName: "Cook distance" });
    drawStrokes(i, cookCoreHiE4.map((v, k) => [k * coreStep, cookCoreFloor, v * 1e-4]), CYAN, 2.7);
    circles(i, cookPoints, CYAN, 7);
    rule(i, [[obsLeft[0], cookLimit], [obsLeft[1], cookLimit]], RED);

    i = panel({ title: "Restricted Likelihood distance", titleX: 505, titleY: 345.3, box: [391, 376.3, 621, 560.3], x: [-376, 11480], y: [-0.0155, 0.4115], yTicks: [0, 0.1, 0.2, 0.3, 0.4], yLabels: [0, 0.1, 0.2, 0.3, 0.4], yFmt: 1, yName: "RLD" });
    drawStrokes(i, spikeRows(rldSpikes), ORANGE, 1.5, 0.55);
    drawStrokes(i, rldCoreHiE3.map((v, k) => [k * coreStep, 0, v * 1e-3]), ORANGE, 2.7);

    i = panel({ title: "DFFITS", titleX: 823.7, titleY: 337, box: [711, 367.3, 936.7, 548], x: [-403, 11415], y: [-0.2585, 0.44], yTicks: [-0.2, -0.1, 0, 0.1, 0.2, 0.3, 0.4], yLabels: [-0.2, 0, 0.1, 0.2, 0.3, 0.4], yFmt: 1, yName: "Dffits residual" });
    drawStrokes(i, spikeRows(dffSpikes), PURPLE, 1.4, 0.45);
    drawStrokes(i, dffCoreHiE3.map((v, k) => [k * coreStep, dffCoreLoE3[k] * 1e-3, v * 1e-3]), PURPLE, 2.7, 0.75);
    drawStrokes(i, dffInnerHiE3.map((v, k) => [k * dffInnerStep, dffInnerLoE3[k] * 1e-3, v * 1e-3]), DARK_PURPLE, 6);
    rule(i, [[-403, 0], [11415, 0]], "rgba(70,70,70,0.55)");

    i = panel({ title: "Covariance ratio", titleX: 1144.7, titleY: 337, box: [1031.7, 367.3, 1257.7, 548], x: [-396, 11395], y: [0.6235, 1.1105], yTicks: [0.7, 0.8, 0.9, 1.0, 1.1], yLabels: [0.7, 0.8, 0.9, 1.0, 1.1], yFmt: 1, yName: "covariance ratio" });
    drawStrokes(i, band(covCoreHi, covCoreLo), GREEN, 2.7);
    circles(i, covPoints, GREEN, 7);
    rule(i, [[-396, 1], [11395, 1]], "rgba(40,40,40,0.8)");

    chart.setOption({ animation: false, backgroundColor: "#fff", title: titles, grid: grids, xAxis: xAxes, yAxis: yAxes, series });
    return () => chart.dispose();
  }, []);
  return <div ref={ref} style={{ position: "fixed", left: 0, top: 0, width: 1264, height: 623, filter: "blur(0.45px)" }} />;
};

export default App;
